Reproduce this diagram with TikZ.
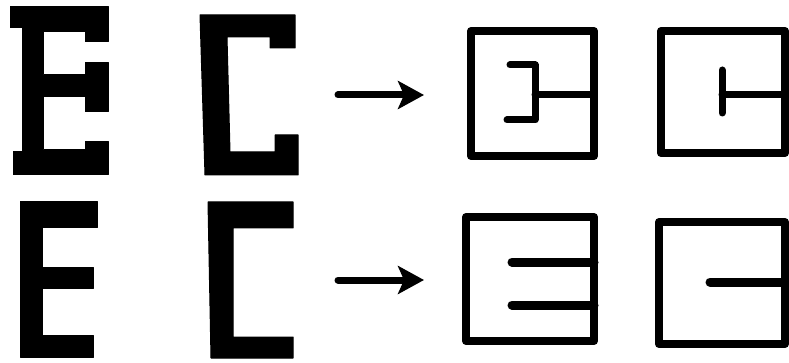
\documentclass[tikz,border=0pt]{standalone}
\usetikzlibrary{arrows.meta}
\tikzset{
  glyph/.style={fill=black,draw=black,line width=1pt,line join=round},
  frame/.style={draw=black,line width=8pt,line join=round},
  stroke/.style={draw=black,line width=7pt,line cap=round,line join=round},
  thickstroke/.style={draw=black,line width=9pt,line cap=round},
  pointer/.style={draw=black,line width=7pt,line cap=round,-{Stealth[length=26pt,width=28pt,inset=6pt]}}
}
\begin{document}
\begin{tikzpicture}[x=1pt,y=-1pt]
\useasboundingbox (0,0) rectangle (789,363);
% top serif E
\fill[glyph] (10,7) -- (108,7) -- (108,42) -- (85,42) -- (85,32) -- (43,32) -- (43,75) -- (85,75) -- (85,63) -- (108,63) -- (108,112) -- (85,112) -- (85,97) -- (43,97) -- (43,150) -- (85,150) -- (85,142) -- (108,142) -- (108,175) -- (13,175) -- (13,152) -- (22,152) -- (22,28) -- (10,28) -- cycle;
% top serif C
\fill[glyph] (200,15) -- (295,15) -- (295,48) -- (270,48) -- (270,37) -- (227,37) -- (230,152) -- (275,152) -- (275,135) -- (298,135) -- (298,175) -- (205,175) -- cycle;
% bottom E
\fill[glyph] (20,202) -- (97,202) -- (97,228) -- (42,228) -- (42,267) -- (93,267) -- (93,288) -- (42,288) -- (42,335) -- (93,335) -- (93,357) -- (20,357) -- cycle;
% bottom C
\fill[glyph] (208,202) -- (293,202) -- (293,228) -- (233,228) -- (233,337) -- (293,337) -- (293,358) -- (211,358) -- cycle;
% arrows
\coordinate (a1s) at (338,95);
\coordinate (a1e) at (424,95);
\coordinate (a2s) at (338,280);
\coordinate (a2e) at (424,280);
\draw[pointer] (a1s) -- (a1e);
\draw[pointer] (a2s) -- (a2e);
% top boxes
\draw[frame] (471,31) rectangle (594,156);
\draw[stroke] (510,65) -- (535,65) -- (535,120) -- (507,120);
\draw[stroke] (535,95) -- (594,95);
\draw[frame] (661,31) rectangle (785,153);
\draw[stroke] (722,70) -- (722,113);
\draw[stroke] (722,95) -- (785,95);
% bottom boxes
\draw[frame] (466,217) rectangle (594,341);
\draw[thickstroke] (512,262) -- (594,262);
\draw[thickstroke] (512,305) -- (594,305);
\draw[frame] (659,222) rectangle (785,344);
\draw[thickstroke] (710,282) -- (785,282);
\end{tikzpicture}
\end{document}
